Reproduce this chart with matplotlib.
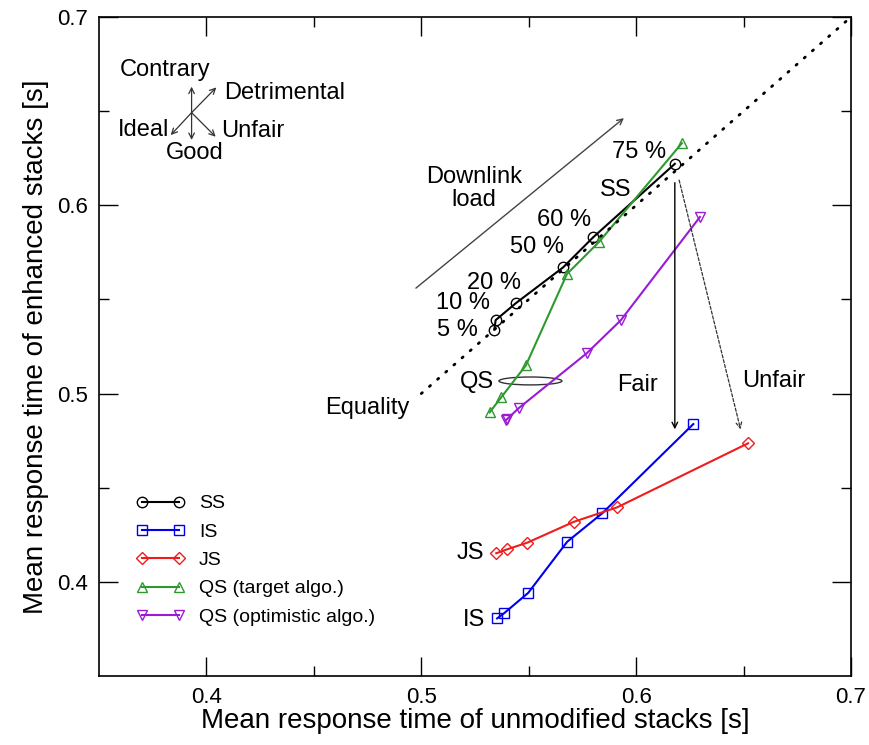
import numpy as np
import matplotlib
matplotlib.use('Agg')
from matplotlib import pyplot as plt
from matplotlib.patches import Ellipse

plt.rcParams['font.family'] = ['Liberation Sans', 'DejaVu Sans']

# mean response times [s], loads 5, 10, 20, 50, 60, 75 %
ss_x = [0.534, 0.5346, 0.544, 0.566, 0.580, 0.618]
ss_y = [0.534, 0.539, 0.548, 0.567, 0.583, 0.622]
is_x = [0.5353, 0.5385, 0.5498, 0.5679, 0.5842, 0.6266]
is_y = [0.3806, 0.3833, 0.3942, 0.4213, 0.4364, 0.4838]
js_x = [0.5349, 0.540, 0.5493, 0.571, 0.5912, 0.6521]
js_y = [0.4152, 0.4173, 0.4208, 0.4319, 0.4396, 0.4736]
qst_x = [0.5318, 0.5372, 0.5487, 0.5678, 0.5827, 0.6213]
qst_y = [0.490, 0.498, 0.515, 0.5635, 0.5805, 0.633]
qso_x = [0.5392, 0.5398, 0.5454, 0.5771, 0.5929, 0.6297]
qso_y = [0.4858, 0.4863, 0.4923, 0.5215, 0.539, 0.5938]

series = [
    ('SS', ss_x, ss_y, 'black', 'o'),
    ('IS', is_x, is_y, '#0000ee', 's'),
    ('JS', js_x, js_y, '#ee1c1c', 'D'),
    ('QS (target algo.)', qst_x, qst_y, '#2e9a2e', '^'),
    ('QS (optimistic algo.)', qso_x, qso_y, '#9a1ad6', 'v'),
]

fig = plt.figure(figsize=(8.69, 7.45), dpi=100)
ax = fig.add_axes([0.1139, 0.0926, 0.8654, 0.8846])

for name, xs, ys, col, mk in series:
    ms = 6 if mk == 'D' else 7.5
    ax.plot(xs, ys, color=col, lw=1.5, marker=mk, ms=ms, mfc='none',
            mec=col, mew=1.0, label=name)

# equality line
ax.plot([0.5, 0.7], [0.5, 0.7], color='black', lw=2.0,
        linestyle=(0, (0.5, 3.4)), dash_capstyle='round')

ax.set_xlim(0.35, 0.7)
ax.set_ylim(0.35, 0.7)
ax.set_xticks([0.4, 0.5, 0.6, 0.7])
ax.set_xticks([0.45, 0.55, 0.65], minor=True)
ax.set_yticks([0.4, 0.5, 0.6, 0.7])
ax.set_yticks([0.45, 0.55, 0.65], minor=True)
ax.tick_params(which='both', direction='in', top=True, right=True, labelsize=16, width=1.0)
ax.tick_params(which='major', length=13.5, pad=8)
ax.tick_params(which='minor', length=7)
for s in ax.spines.values():
    s.set_linewidth(1.2)
ax.set_xlabel('Mean response time of unmodified stacks [s]', fontsize=20, labelpad=0)
ax.set_ylabel('Mean response time of enhanced stacks [s]', fontsize=20, labelpad=6)

fs = 17
arr = dict(arrowstyle='->', color='#333333', lw=0.9, shrinkA=0, shrinkB=0)

# direction legend, top left
c = (0.3931, 0.6492)
for end in [(0.3931, 0.663), (0.3931, 0.6347), (0.4046, 0.6626),
            (0.3834, 0.6373), (0.4043, 0.6364)]:
    ax.annotate('', xy=end, xytext=c, arrowprops=arr)
ax.text(0.3807, 0.6718, 'Contrary', fontsize=fs, ha='center', va='center')
ax.text(0.4082, 0.6596, 'Detrimental', fontsize=fs, ha='left', va='center')
ax.text(0.3826, 0.640, 'Ideal', fontsize=fs, ha='right', va='center')
ax.text(0.4068, 0.6394, 'Unfair', fontsize=fs, ha='left', va='center')
ax.text(0.3947, 0.6278, 'Good', fontsize=fs, ha='center', va='center')

# downlink load arrow
ax.annotate('', xy=(0.5943, 0.6463), xytext=(0.4975, 0.556),
            arrowprops=dict(arrowstyle='->', color='#444444', lw=1.0, shrinkA=0, shrinkB=0))
ax.text(0.5245, 0.609, 'Downlink\nload', fontsize=fs, ha='center', va='center',
        linespacing=1.05)

# load labels
ax.text(0.6013, 0.6283, '75 %', fontsize=fs, ha='center', va='center')
ax.text(0.5906, 0.608, 'SS', fontsize=fs, ha='center', va='center')
ax.text(0.5664, 0.5922, '60 %', fontsize=fs, ha='center', va='center')
ax.text(0.554, 0.578, '50 %', fontsize=fs, ha='center', va='center')
ax.text(0.5338, 0.5585, '20 %', fontsize=fs, ha='center', va='center')
ax.text(0.5194, 0.548, '10 %', fontsize=fs, ha='center', va='center')
ax.text(0.5166, 0.5337, '5 %', fontsize=fs, ha='center', va='center')
ax.text(0.5259, 0.5063, 'QS', fontsize=fs, ha='center', va='center')
ax.add_patch(Ellipse((0.5508, 0.5067), 0.0293, 0.0042, fill=False, color='#333333', lw=1.0))

# fair / unfair arrows
ax.annotate('', xy=(0.618, 0.481), xytext=(0.618, 0.612),
            arrowprops=dict(arrowstyle='->', color='black', lw=1.0, shrinkA=0, shrinkB=0))
ax.annotate('', xy=(0.6486, 0.481), xytext=(0.620, 0.6134),
            arrowprops=dict(arrowstyle='->', color='#333333', lw=0.9, shrinkA=0, shrinkB=0,
                            linestyle=(0, (2.5, 1.5))))
ax.text(0.6008, 0.5045, 'Fair', fontsize=fs, ha='center', va='center')
ax.text(0.6641, 0.5067, 'Unfair', fontsize=fs, ha='center', va='center')
ax.text(0.4747, 0.4923, 'Equality', fontsize=fs, ha='center', va='center')
ax.text(0.5229, 0.4152, 'JS', fontsize=fs, ha='center', va='center')
ax.text(0.5245, 0.3797, 'IS', fontsize=fs, ha='center', va='center')

ax.legend(loc='upper left', bbox_to_anchor=(0.05, 0.275), frameon=False,
          fontsize=14, numpoints=2, handlelength=2.5, handletextpad=0.7,
          labelspacing=0.55, borderpad=0, borderaxespad=0)

fig.savefig('out.png', dpi=100)
